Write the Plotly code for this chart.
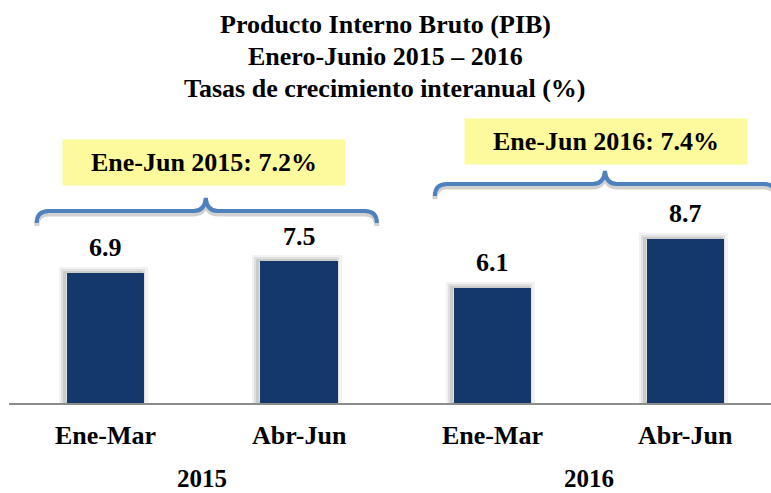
import plotly.graph_objects as go

# ---------------- data ----------------
years = ["2015", "2015", "2016", "2016"]
quarters = ["Ene-Mar", "Abr-Jun", "Ene-Mar", "Abr-Jun"]
growth = [6.9, 7.5, 6.1, 8.7]
year_labels = ["2015", "2016"]
semester_text = ["Ene-Jun 2015: 7.2%", "Ene-Jun 2016: 7.4%"]
title_lines = ["Producto Interno Bruto (PIB)", "Enero-Junio 2015 \u2013 2016",
               "Tasas de crecimiento interanual (%)"]

# ---------------- layout geometry (pixels) ----------------
W, H = 771, 493
X_LEFT = 9.3          # left edge of first category
CAT_PX = 193.3        # pixels per category
Y_ZERO = 403          # pixel row of value 0
UNIT_PX = 18.88       # pixels per percentage point
BAR_W = 0.40

FONT = "Liberation Serif"
BAR_COLOR = "#15386b"
BRACE_COLOR = "#4f81bd"
GRID_GREY = "#8c8c8c"
BOX_COLOR = "#fcfa9c"


def xd(px):
    return (px - X_LEFT) / CAT_PX - 0.5


def yd(py):
    return (Y_ZERO - py) / UNIT_PX


x_idx = list(range(len(growth)))

fig = go.Figure()
# soft shadow (same values, translucent outline)
for lw, alpha in [(12, 0.05), (7, 0.07), (3, 0.09)]:
    fig.add_trace(go.Bar(
        x=x_idx, y=growth, width=BAR_W, offset=-BAR_W / 2 - 2 / CAT_PX,
        marker=dict(color="rgba(0,0,0,0)", line=dict(width=lw, color=f"rgba(0,0,0,{alpha})")),
        hoverinfo="skip", showlegend=False,
    ))
fig.add_trace(go.Bar(
    x=x_idx, y=growth, width=BAR_W, offset=-BAR_W / 2,
    marker=dict(color=BAR_COLOR, line=dict(width=0)),
    hoverinfo="skip", showlegend=False,
))

annotations = []
shapes = []

# value labels
for i, v in zip(x_idx, growth):
    annotations.append(dict(x=i, y=v, xref="x", yref="y", text=f"<b>{v:.1f}</b>",
                            showarrow=False, yanchor="middle", yshift=25,
                            font=dict(family=FONT, size=26, color="black")))

# quarter labels
for i, q in zip(x_idx, quarters):
    annotations.append(dict(x=i, y=0, xref="x", yref="y", text=f"<b>{q}</b>",
                            showarrow=False, yanchor="middle", yshift=-32,
                            font=dict(family=FONT, size=26, color="black")))

# year labels (centred on each group)
groups = []
for yl in year_labels:
    idx = [i for i, y in zip(x_idx, years) if y == yl]
    groups.append((min(idx), max(idx)))
for (a, b), yl in zip(groups, year_labels):
    annotations.append(dict(x=(a + b) / 2, y=0, xref="x", yref="y", text=f"<b>{yl}</b>",
                            showarrow=False, yanchor="middle", yshift=-75,
                            font=dict(family=FONT, size=25, color="black")))

# separators: category boundaries (short), group boundaries (full)
for i in x_idx:
    left = i - 0.5
    is_group_edge = (i == 0) or (years[i] != years[i - 1])
    shapes.append(dict(type="line", xref="x", yref="y", x0=left, x1=left,
                       ysizemode="pixel", yanchor=0, y0=0, y1=-(90 if is_group_edge else 47),
                       line=dict(color=GRID_GREY, width=2)))

# braces and yellow semester boxes (positions in pixels)
brace_geo = [  # xl, xr, xc, y_end, y_h, y_tip
    (37, 377, 206, 223, 211, 198),
    (435, 776, 605, 196, 184, 171),
]
box_geo = [  # centre x, centre y
    (204, 162.5),
    (606, 141.5),
]


def brace_path(xl, xr, xc, ye, yh, yt, dy=0):
    r = 12
    pts = lambda x, y: f"{xd(x):.5f},{yd(y + dy):.5f}"
    return (f"M {pts(xl, ye)} Q {pts(xl, yh)} {pts(xl + r, yh)} "
            f"L {pts(xc - r, yh)} Q {pts(xc - 1, yh)} {pts(xc, yt)} "
            f"Q {pts(xc + 1, yh)} {pts(xc + r, yh)} "
            f"L {pts(xr - r, yh)} Q {pts(xr, yh)} {pts(xr, ye)}")


for g in brace_geo:
    shapes.append(dict(type="path", xref="x", yref="y", path=brace_path(*g, dy=3),
                       line=dict(color="rgba(0,0,0,0.18)", width=5)))
    shapes.append(dict(type="path", xref="x", yref="y", path=brace_path(*g),
                       line=dict(color=BRACE_COLOR, width=4)))

for (cx, cy), txt in zip(box_geo, semester_text):
    annotations.append(dict(x=xd(cx), y=yd(cy), xref="x", yref="y", text=f"<b>{txt}</b>",
                            showarrow=False, xanchor="center", yanchor="middle",
                            width=282, height=45, bgcolor=BOX_COLOR, borderpad=0,
                            font=dict(family=FONT, size=26, color="black")))

# title lines
for line, cy in zip(title_lines, [24, 56, 88]):
    annotations.append(dict(x=0.5, y=1, xref="paper", yref="paper", text=f"<b>{line}</b>",
                            showarrow=False, xanchor="center", yanchor="middle",
                            yshift=-cy, xshift=(W / 2 - (X_LEFT + (W - X_LEFT) / 2)),
                            font=dict(family=FONT, size=26, color="black")))

plot_w = W - X_LEFT
fig.update_layout(
    width=W, height=H,
    margin=dict(l=X_LEFT, r=0, t=0, b=H - Y_ZERO, pad=0),
    paper_bgcolor="white", plot_bgcolor="white",
    font=dict(family=FONT),
    barmode="overlay", bargap=0, showlegend=False,
    xaxis=dict(range=[-0.5, -0.5 + plot_w / CAT_PX], showticklabels=False, ticks="",
               showgrid=False, zeroline=False, showline=True, linecolor=GRID_GREY,
               linewidth=2, fixedrange=True),
    yaxis=dict(range=[0, Y_ZERO / UNIT_PX], visible=False, fixedrange=True),
    shapes=shapes, annotations=annotations,
)

fig.write_html("out.html", config={"displayModeBar": False},
               post_script="document.body.style.margin='0';document.body.style.overflow='hidden';")
